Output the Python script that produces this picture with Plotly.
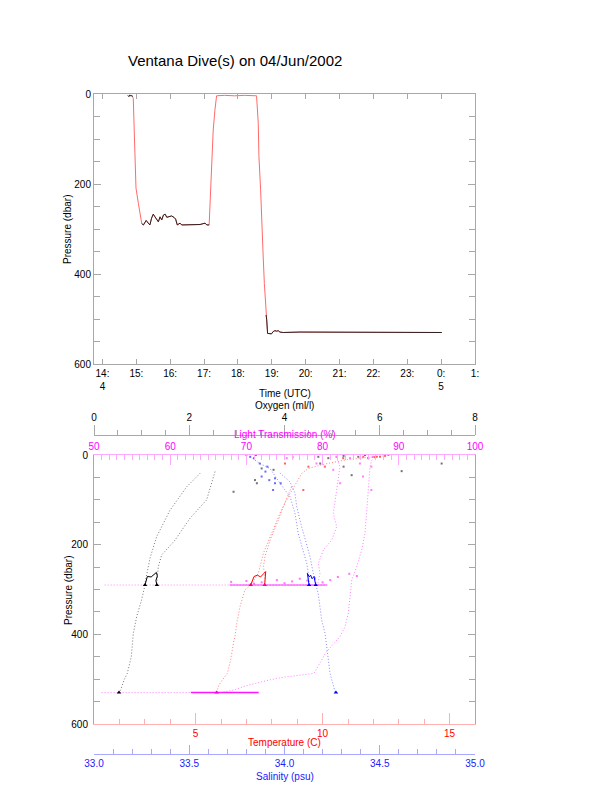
import plotly.graph_objects as go

# ---------------- top panel: pressure vs time ----------------
ctd_time = [14.89, 14.91, 14.93, 14.96, 14.99, 15.06, 15.11, 15.16, 15.21, 15.29,
            15.35, 15.40, 15.45, 15.50, 15.55, 15.60, 15.65, 15.70, 15.75, 15.80,
            15.85, 15.90, 15.95, 16.04, 16.11, 16.16, 16.21, 16.29, 16.34, 16.49,
            16.68, 16.88, 17.03, 17.08, 17.15, 17.175, 17.20, 17.23, 17.27, 17.32,
            17.35, 17.37, 17.60, 17.90, 18.20, 18.55, 18.60, 18.62, 18.67, 18.70,
            18.75, 18.78, 18.81, 18.83, 18.85, 18.875, 18.99, 19.04, 19.09, 19.14,
            19.19, 19.24, 19.34, 19.83, 24.02]
ctd_press = [6, 10, 62, 124, 209, 243, 265, 288, 291, 281,
             287, 291, 276, 267, 273, 280, 284, 273, 280, 269,
             267, 274, 273, 271, 274, 278, 291, 287, 291, 291,
             291, 290, 287, 291, 291, 247, 198, 139, 80, 36,
             6, 4, 3, 4, 3, 4, 65, 139, 213, 287,
             369, 421, 465, 491, 502, 532, 533, 528, 526, 527,
             526, 529, 530, 529, 530]

rov_time = [14.75, 14.78, 14.81, 14.84, 14.87, 14.89, None,
            15.16, 15.21, 15.29, 15.35, 15.40, 15.45, 15.50, 15.55, 15.60, 15.65,
            15.70, 15.75, 15.80, 15.85, 15.90, 15.95, 16.04, 16.11, 16.16, 16.21,
            16.29, 16.34, 16.49, 16.68, 16.88, 17.03, 17.08, 17.15, None,
            18.83, 18.85, 18.875, 18.99, 19.04, 19.09, 19.14, 19.19, 19.24, 19.34,
            19.83, 24.02]
rov_press = [3, 6, 2, 5, 3, 6, None,
             288, 291, 281, 287, 291, 276, 267, 273, 280, 284,
             273, 280, 269, 267, 274, 273, 271, 274, 278, 291,
             287, 291, 291, 291, 290, 287, 291, 291, None,
             491, 502, 532, 533, 528, 526, 527, 526, 529, 530,
             529, 530]

hour_ticks = [14, 15, 16, 17, 18, 19, 20, 21, 22, 23, 24, 25]
hour_labels = ["14:<br>4", "15:", "16:", "17:", "18:", "19:", "20:", "21:",
               "22:", "23:", "0:<br>5", "1:"]

# ---------------- bottom panel: profiles ----------------
# oxygen (ml/l)
oxy_a = [2.226, 1.946, 1.596, 1.317, 1.176, 1.107, 1.071]
oxy_a_p = [41, 71, 123, 182, 230, 264, 286]
oxy_b = [2.541, 2.366, 2.016, 1.701, 1.421, 1.351, 1.317]
oxy_b_p = [37, 100, 141, 190, 223, 249, 286]
oxy_c = [1.071, 1.0, 0.897, 0.825, 0.783, 0.699, 0.630, 0.561, 0.525]
oxy_c_p = [290, 323, 360, 398, 450, 487, 502, 524, 530]
oxy_clu = [1.071, 1.12, 1.20, 1.24, 1.28, 1.31, 1.33, 1.30, 1.32]
oxy_clu_p = [290, 271, 272, 268, 266, 262, 270, 280, 290]
oxy_sfc = [4.71, 4.92, 5.24, 5.55, 5.69, 5.76, 6.46, 7.30, 5.41, 5.24, 4.75,
           2.93, 3.42, 3.52, 3.77, 3.38]
oxy_sfc_p = [4, 7, 2, 4, 0, 7, 36, 19, 45, 26, 19, 82, 63, 30, 33, 56]
oxy_end = [1.071, 1.32, 0.525]
oxy_end_p = [290, 290, 530]

# temperature (C)
tmp_a = [12.4, 11.0, 10.1, 9.44, 9.18, 8.65, 8.32, 8.0, 7.67, 7.47, 7.34, 7.21]
tmp_a_p = [2, 10, 20, 30, 41, 93, 130, 175, 219, 264, 275, 286]
tmp_b = [8.78, 8.45, 8.26, 7.93, 7.73, 7.67, 7.73, 7.69]
tmp_b_p = [71, 115, 145, 190, 227, 249, 271, 286]
tmp_c = [7.17, 6.94, 6.75, 6.62, 6.55, 6.51, 6.38, 6.25, 6.05, 5.92, 5.83]
tmp_c_p = [290, 301, 338, 375, 405, 413, 457, 487, 502, 513, 528]
tmp_clu = [7.17, 7.25, 7.30, 7.43, 7.56, 7.69, 7.76, 7.72]
tmp_clu_p = [290, 275, 271, 268, 272, 264, 260, 290]
tmp_sfc = [12.46, 12.26, 12.59, 12.06, 12.13, 11.6, 10.09, 9.44, 9.24, 10.81, 8.52]
tmp_sfc_p = [2, 4, 0, 5, 4, 4, 26, 26, 78, 7, 19]
tmp_end = [7.17, 7.72, 5.83]
tmp_end_p = [290, 290, 530]

# salinity (psu)
sal_a = [33.82, 33.87, 33.924, 33.976, 34.029, 34.055, 34.072, 34.099, 34.117,
         34.125, 34.130]
sal_a_p = [4, 19, 30, 63, 93, 130, 175, 212, 242, 264, 286]
sal_b = [33.976, 34.029, 34.055, 34.064, 34.090, 34.108, 34.134, 34.151, 34.165]
sal_b_p = [40, 60, 85, 115, 160, 190, 227, 264, 286]
sal_c = [34.165, 34.177, 34.186, 34.195, 34.213, 34.222, 34.230, 34.239, 34.253,
         34.265]
sal_c_p = [290, 309, 338, 368, 398, 428, 457, 487, 509, 528]
sal_clu = [34.129, 34.12, 34.13, 34.137, 34.145, 34.155, 34.164]
sal_clu_p = [290, 264, 272, 268, 276, 271, 290]
sal_sfc = [33.80, 33.82, 33.84, 33.85, 33.87, 33.91, 33.95, 33.94, 33.88, 33.90,
           33.98, 33.95, 33.92]
sal_sfc_p = [0, 4, 7, 0, 19, 26, 63, 78, 48, 37, 63, 52, 56]
sal_end = [34.129, 34.164, 34.27]
sal_end_p = [290, 290, 530]

# light transmission (%)
lt_a = [81.8, 82.28, 81.85, 81.40, 81.85, 81.19, 80.09, 79.44, 79.66, 79.4]
lt_a_p = [4, 26, 78, 130, 160, 190, 212, 242, 264, 285]
lt_b = [86.6, 86.22, 86.0, 85.79, 85.56, 85.13, 84.48, 83.82, 83.60, 83.37,
        82.94, 82.28, 80.45, 78.87, 77.13, 75.16, 73.19, 71.43, 69.91, 68.37, 66.54]
lt_b_p = [4, 26, 78, 130, 175, 212, 249, 279, 323, 353,
          383, 405, 440, 487, 491, 495, 501, 509, 515, 524, 530]
lt_h290 = [51.4, 80.6]
lt_h290_dense = [67.8, 80.6]
lt_h530 = [51.0, 71.6]
lt_h530_dense = [62.7, 71.6]
lt_sfc = [79.2, 81.4, 84.9, 86.4, 86.6, 81.8, 83.6, 75.3, 76.1, 82.3, 85.3, 86.4]
lt_sfc_p = [19, 33, 19, 26, 4, 4, 7, 7, 5, 63, 48, 78]
lt_mid = [68, 70, 72, 74, 76, 77, 78, 79, 80, 81, 71, 75, 82, 83.5, 84.5]
lt_mid_p = [283, 281, 284, 279, 282, 276, 280, 275, 284, 279, 287, 286, 272, 265, 270]

# ---------------- figure ----------------
FONT = "Liberation Sans, Arial, Helvetica, sans-serif"
AXC = "#a8a8a8"
# the page body adds an 8px margin; the figure fills the rest of the window
OFF = 8
W, H = 612 - OFF, 785 - OFF


def fx(px):
    return (px - OFF) / W


def fy(py):
    return (785 - py) / H


X0, X1 = fx(94), fx(475)
YT0, YT1 = fy(364), fy(94)
YB0, YB1 = fy(724), fy(455)
OXY_POS = fy(435)
SAL_POS = fy(754)

fig = go.Figure()

fig.add_trace(go.Scatter(x=ctd_time, y=ctd_press, mode="lines",
                         line=dict(color="#ff6a6a", width=1), xaxis="x", yaxis="y"))
fig.add_trace(go.Scatter(x=rov_time, y=rov_press, mode="lines", connectgaps=False,
                         line=dict(color="#302020", width=1), xaxis="x", yaxis="y"))

DOT = "1px,2px"


def prof(x, y, color, ax, dash=DOT, width=1):
    fig.add_trace(go.Scatter(x=x, y=y, mode="lines", xaxis=ax, yaxis="y2",
                             line=dict(color=color, width=width, dash=dash)))


def pts(x, y, color, ax, size=2, symbol="square"):
    fig.add_trace(go.Scatter(x=x, y=y, mode="markers", xaxis=ax, yaxis="y2",
                             marker=dict(color=color, size=size, symbol=symbol,
                                         line=dict(width=0))))


OXC = "rgba(60,60,60,0.7)"
TC = "rgba(255,60,60,0.65)"
SC = "rgba(70,70,255,0.65)"
LC = "rgba(255,60,255,0.65)"

# horizontal streaks (light transmission)
prof(lt_h290, [290, 290], LC, "x3")
prof(lt_h290_dense, [290, 290], "rgba(255,0,255,0.8)", "x3", dash="solid")
prof(lt_h530, [530, 530], LC, "x3")
prof(lt_h530_dense, [530, 530], "rgba(255,0,255,0.9)", "x3", dash="solid", width=1.5)
pts(lt_sfc, lt_sfc_p, LC, "x3")
pts(lt_mid, lt_mid_p, "rgba(255,80,255,0.8)", "x3")
prof(lt_a, lt_a_p, LC, "x3")
prof(lt_b, lt_b_p, LC, "x3")

# oxygen
prof(oxy_a, oxy_a_p, OXC, "x4")
prof(oxy_b, oxy_b_p, OXC, "x4")
prof(oxy_c, oxy_c_p, OXC, "x4")
prof(oxy_clu, oxy_clu_p, "#000000", "x4", dash="solid")
pts(oxy_sfc, oxy_sfc_p, "rgba(80,80,80,0.8)", "x4")
pts(oxy_end, oxy_end_p, "#000000", "x4", size=4, symbol="triangle-up")

# temperature
prof(tmp_a, tmp_a_p, TC, "x2")
prof(tmp_b, tmp_b_p, TC, "x2")
prof(tmp_c, tmp_c_p, TC, "x2")
prof(tmp_clu, tmp_clu_p, "#ff0000", "x2", dash="solid")
pts(tmp_sfc, tmp_sfc_p, "rgba(255,60,60,0.8)", "x2")
pts(tmp_end, tmp_end_p, "#ff0000", "x2", size=4, symbol="triangle-up")

# salinity
prof(sal_a, sal_a_p, SC, "x5")
prof(sal_b, sal_b_p, SC, "x5")
prof(sal_c, sal_c_p, SC, "x5")
prof(sal_clu, sal_clu_p, "#0000ff", "x5", dash="solid")
pts(sal_sfc, sal_sfc_p, "rgba(70,70,255,0.8)", "x5")
pts(sal_end, sal_end_p, "#0000ff", "x5", size=4, symbol="triangle-up")

tick_font = dict(family=FONT, size=10, color="black")

press_axis = dict(range=[600, 0], tickmode="array", tickvals=[0, 200, 400, 600],
                  ticks="inside", ticklen=7, tickcolor=AXC, showline=True,
                  linecolor=AXC, mirror="ticks", showgrid=False, zeroline=False,
                  automargin=False,
                  minor=dict(dtick=50, tick0=0, ticks="inside", ticklen=6,
                             tickcolor=AXC, showgrid=False),
                  tickfont=tick_font)

fig.update_layout(
    width=W, height=H, margin=dict(l=0, r=0, t=0, b=0, autoexpand=False),
    paper_bgcolor="white", plot_bgcolor="white", showlegend=False,
    font=dict(family=FONT, size=10, color="black"),
    xaxis=dict(domain=[X0, X1], range=[13.75, 25.0], anchor="y",
               tickmode="array", tickvals=hour_ticks, ticktext=hour_labels,
               ticks="inside", ticklen=5, tickcolor=AXC, showline=True,
               linecolor=AXC, mirror="ticks", showgrid=False, zeroline=False,
               automargin=False, tickfont=tick_font),
    yaxis=dict(domain=[YT0, YT1], anchor="x", **press_axis),
    xaxis2=dict(domain=[X0, X1], range=[1, 16], anchor="y2", side="bottom",
                tickmode="linear", tick0=0, dtick=5, ticks="inside", ticklen=11,
                tickcolor="#ffb0b0", showline=True, linecolor="#ffb0b0",
                showgrid=False, zeroline=False, automargin=False,
                minor=dict(dtick=1, tick0=0, ticks="inside", ticklen=5,
                           tickcolor="#ffb0b0", showgrid=False),
                tickfont=dict(family=FONT, size=10, color="#ff0000")),
    xaxis3=dict(domain=[X0, X1], range=[50, 100], anchor="y2", side="top",
                overlaying="x2", tickmode="linear", tick0=50, dtick=10,
                ticks="inside", ticklen=10, tickcolor="#ffa8ff", showline=True,
                linecolor="#ffa8ff", showgrid=False, zeroline=False,
                automargin=False,
                minor=dict(dtick=1, tick0=50, ticks="inside", ticklen=5,
                           tickcolor="#ffa8ff", showgrid=False),
                tickfont=dict(family=FONT, size=10, color="#ff00ff")),
    xaxis4=dict(domain=[X0, X1], range=[0, 8], anchor="free", position=OXY_POS,
                side="top", overlaying="x2", tickmode="linear", tick0=0, dtick=2,
                ticks="outside", ticklen=10, tickcolor=AXC, showline=True,
                linecolor=AXC, showgrid=False, zeroline=False, automargin=False,
                minor=dict(dtick=0.5, tick0=0, ticks="outside", ticklen=5,
                           tickcolor=AXC, showgrid=False),
                tickfont=tick_font),
    xaxis5=dict(domain=[X0, X1], range=[33, 35], anchor="free", position=SAL_POS,
                side="bottom", overlaying="x2", tickmode="linear", tick0=33,
                dtick=0.5, tickformat=".1f", ticks="inside", ticklen=9,
                tickcolor="#a8a8ff", showline=True, linecolor="#a8a8ff",
                showgrid=False, zeroline=False, automargin=False,
                minor=dict(dtick=0.1, tick0=33, ticks="inside", ticklen=5,
                           tickcolor="#a8a8ff", showgrid=False),
                tickfont=dict(family=FONT, size=10, color="#2020ff")),
    yaxis2=dict(domain=[YB0, YB1], anchor="x2", ticklabelstandoff=3, **press_axis),
)


def ann(text, xpx, ypx, size=10, color="black", angle=0):
    fig.add_annotation(text=text, x=fx(xpx), y=fy(ypx),
                       xref="paper", yref="paper", showarrow=False,
                       xanchor="center", yanchor="middle", textangle=angle,
                       font=dict(family=FONT, size=size, color=color))


ann("Ventana Dive(s) on 04/Jun/2002", 234.5, 60, size=15)
ann("Pressure (dbar)", 68, 229, angle=-90)
ann("Time (UTC)", 284.5, 393)
ann("Oxygen (ml/l)", 284.5, 405)
ann("Light Transmission (%)", 284.5, 435, color="#ff00ff")
ann("Pressure (dbar)", 68, 590, angle=-90)
ann("Temperature (C)", 284.5, 742, color="#ff0000")
ann("Salinity (psu)", 284.5, 776, color="#2020ff")

fig.write_html("out.html")
